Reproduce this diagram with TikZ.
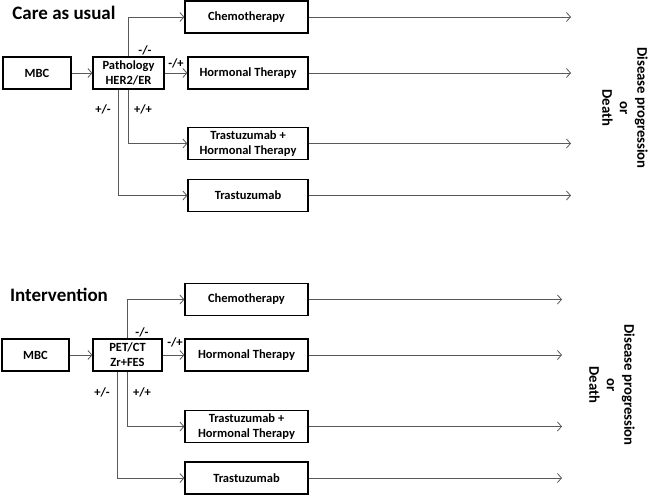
\documentclass[tikz,border=0pt]{standalone}
\usepackage{fontspec}
\setmainfont{Carlito}
\usetikzlibrary{arrows.meta}

\begin{document}
\begin{tikzpicture}[x=1pt, y=-1pt,
  box/.style={draw, line width=1.2pt, align=center, inner sep=1pt,
              font=\bfseries\fontsize{12.5}{15}\selectfont, minimum height=32pt},
  arr/.style={-{Straight Barb[length=4pt, width=9pt]}, draw=black!65, line width=0.8pt},
  lab/.style={font=\bfseries\fontsize{12.5}{13}\selectfont},
  ttl/.style={font=\bfseries\fontsize{19}{22}\selectfont},
  outc/.style={rotate=-90, align=center, font=\bfseries\fontsize{14.7}{17.5}\selectfont}]
  \useasboundingbox (0,0) rectangle (650,496);
  % care as usual
  \node[ttl] (t1) at (64,13) {Care as usual};
  \node[box, minimum width=68pt] (mbc1) at (37,73) {MBC};
  \node[box, minimum width=71pt] (path1) at (128.5,73) {Pathology\\HER2/ER};
  \node[box, minimum width=123pt] (chemo1) at (246.5,17) {Chemotherapy};
  \node[box, minimum width=120pt] (horm1) at (248,73) {Hormonal Therapy};
  \node[box, minimum width=120pt] (th1) at (248,143.5) {Trastuzumab +\\Hormonal Therapy};
  \node[box, minimum width=120pt] (tr1) at (248,195.5) {Trastuzumab};
  \coordinate (end1) at (571,0);
  \draw[arr] (mbc1) -- (path1);
  \draw[arr] (path1.north) |- (chemo1.west);
  \draw[arr] (path1) -- (horm1);
  \draw[arr] (path1.south) |- (th1.west);
  \draw[arr] ([xshift=-10.5pt]path1.south) |- (tr1.west);
  \draw[arr] (chemo1.east) -- (chemo1.east -| end1);
  \draw[arr] (horm1.east) -- (horm1.east -| end1);
  \draw[arr] (th1.east) -- (th1.east -| end1);
  \draw[arr] (tr1.east) -- (tr1.east -| end1);
  \node[lab] (l1a) at (145,50) {-/-};
  \node[lab] (l1b) at (176,63) {-/+};
  \node[lab] (l1c) at (143,109) {+/+};
  \node[lab] (l1d) at (103,109) {+/-};
  \node[outc] (o1) at (625,108) {Disease progression\\or\\Death};
  % intervention
  \node[ttl] (t2) at (59,295) {Intervention};
  \node[box, minimum width=67pt] (mbc2) at (35.5,355) {MBC};
  \node[box, minimum width=69pt] (pet2) at (127.5,355) {PET/CT\\Zr+FES};
  \node[box, minimum width=123pt] (chemo2) at (246.5,299.5) {Chemotherapy};
  \node[box, minimum width=123pt] (horm2) at (246.5,355) {Hormonal Therapy};
  \node[box, minimum width=123pt] (th2) at (246.5,426.5) {Trastuzumab +\\Hormonal Therapy};
  \node[box, minimum width=123pt] (tr2) at (246.5,478) {Trastuzumab};
  \coordinate (end2) at (562,0);
  \draw[arr] (mbc2) -- (pet2);
  \draw[arr] (pet2.north) |- (chemo2.west);
  \draw[arr] (pet2) -- (horm2);
  \draw[arr] (pet2.south) |- (th2.west);
  \draw[arr] ([xshift=-10.5pt]pet2.south) |- (tr2.west);
  \draw[arr] (chemo2.east) -- (chemo2.east -| end2);
  \draw[arr] (horm2.east) -- (horm2.east -| end2);
  \draw[arr] (th2.east) -- (th2.east -| end2);
  \draw[arr] (tr2.east) -- (tr2.east -| end2);
  \node[lab] (l2a) at (142,332) {-/-};
  \node[lab] (l2b) at (175,342) {-/+};
  \node[lab] (l2c) at (142,392) {+/+};
  \node[lab] (l2d) at (102,392) {+/-};
  \node[outc] (o2) at (612,385) {Disease progression\\or\\Death};
\end{tikzpicture}
\end{document}
